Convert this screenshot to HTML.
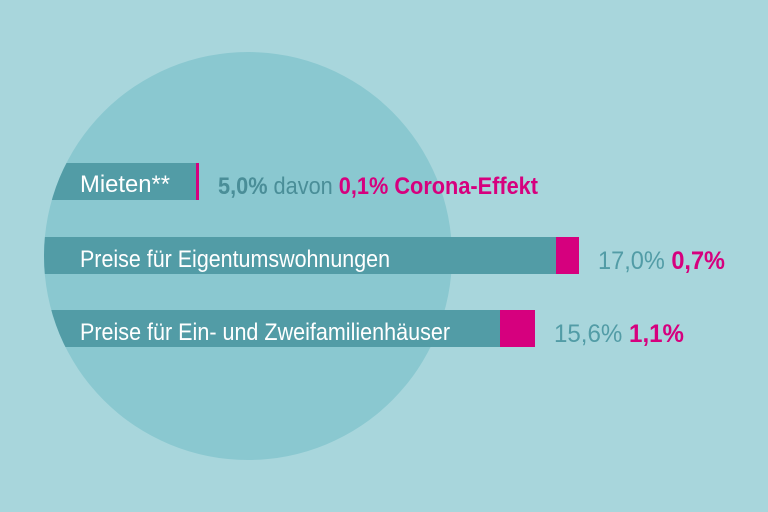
<!DOCTYPE html>
<html><head><style>
html,body{margin:0;padding:0;background:#a8d6dc;}
svg{display:block;}
text{font-family:"Liberation Sans Narrow","Liberation Sans",sans-serif;}
</style></head><body>
<svg width="768" height="512" viewBox="0 0 768 512">
<defs>
<clipPath id="c"><circle cx="248" cy="256" r="204"/><rect x="248" y="0" width="520" height="512"/></clipPath>
</defs>
<rect width="768" height="512" fill="#a8d6dc"/>
<circle cx="248" cy="256" r="204" fill="#8ac8d0"/>
<g clip-path="url(#c)">
<rect x="0" y="163" width="196" height="37" fill="#529ca6"/>
<rect x="196" y="163" width="3" height="37" fill="#d6007e"/>
<rect x="0" y="237" width="556" height="37" fill="#529ca6"/>
<rect x="556" y="237" width="23" height="37" fill="#d6007e"/>
<rect x="0" y="310" width="500" height="37" fill="#529ca6"/>
<rect x="500" y="310" width="35" height="37" fill="#d6007e"/>
</g>
<g font-size="24" fill="#fff">
<text x="80" y="192" textLength="90" lengthAdjust="spacingAndGlyphs">Mieten**</text>
<text x="80" y="267" textLength="310" lengthAdjust="spacingAndGlyphs">Preise für Eigentumswohnungen</text>
<text x="80" y="340" textLength="370" lengthAdjust="spacingAndGlyphs">Preise für Ein- und Zweifamilienhäuser</text>
</g>
<text x="218" y="194" font-size="24" textLength="320" lengthAdjust="spacingAndGlyphs"><tspan fill="#4a8e98" font-weight="bold">5,0%</tspan><tspan fill="#4a8e98"> davon </tspan><tspan fill="#d6007e" font-weight="bold">0,1% Corona-Effekt</tspan></text>
<text x="598" y="269" font-size="25" textLength="127" lengthAdjust="spacingAndGlyphs"><tspan fill="#529ca6">17,0% </tspan><tspan fill="#d6007e" font-weight="bold">0,7%</tspan></text>
<text x="554" y="342" font-size="25" textLength="130" lengthAdjust="spacingAndGlyphs"><tspan fill="#529ca6">15,6% </tspan><tspan fill="#d6007e" font-weight="bold">1,1%</tspan></text>
</svg>
</body></html>
